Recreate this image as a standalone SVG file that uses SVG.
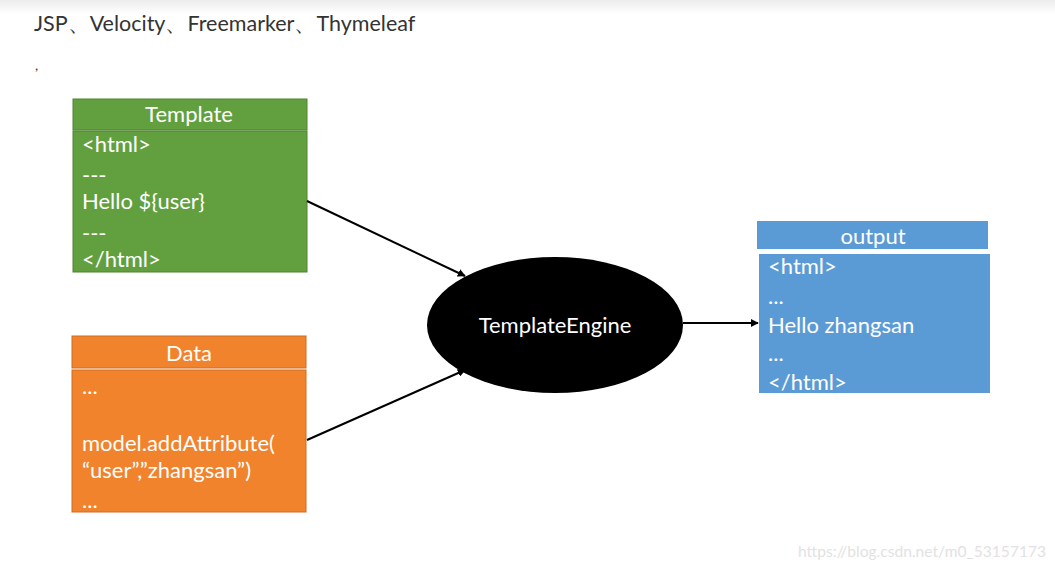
<svg xmlns="http://www.w3.org/2000/svg" width="1055" height="570" viewBox="0 0 1055 570">
<defs>
<marker id="ah" viewBox="0 0 10 10" refX="9" refY="5" markerWidth="8" markerHeight="8" markerUnits="userSpaceOnUse" orient="auto">
<path d="M0,0 L10,5 L0,10 z" fill="#000"/>
</marker>
<linearGradient id="topg" x1="0" y1="0" x2="0" y2="1">
<stop offset="0" stop-color="#ececec"/>
<stop offset="1" stop-color="#ffffff"/>
</linearGradient>
</defs>
<style>
text{font-family:Lato,"Open Sans","Liberation Sans",sans-serif;}
.t{font-size:22px;fill:#fff;}
.c{text-anchor:middle;}
.conn{stroke:#000;stroke-width:2;fill:none;marker-end:url(#ah);}
</style>
<rect width="1055" height="570" fill="#fff"/>
<rect width="1055" height="14" fill="url(#topg)"/>
<text x="34" y="31" font-size="21.5" fill="#333">JSP、Velocity、Freemarker、Thymeleaf</text>
<text x="35" y="70" font-size="14" fill="#333">,</text>
<g id="template">
<rect x="73" y="99" width="234" height="31" fill="#62a03f" stroke="#4f8330" stroke-width="1"/>
<rect x="73" y="131" width="234" height="141" fill="#62a03f" stroke="#4f8330" stroke-width="1"/>
<text class="t c" x="189" y="122">Template</text>
<text class="t" x="82" y="152">&lt;html&gt;</text>
<text class="t" x="82" y="183">---</text>
<text class="t" x="82" y="209">Hello ${user}</text>
<text class="t" x="82" y="241">---</text>
<text class="t" x="82" y="267">&lt;/html&gt;</text>
</g>
<g id="data">
<rect x="72" y="336" width="234" height="32" fill="#f0832c" stroke="#d06d20" stroke-width="1"/>
<rect x="72" y="370" width="234" height="142" fill="#f0832c" stroke="#d06d20" stroke-width="1"/>
<text class="t c" x="189" y="361">Data</text>
<text class="t" x="82" y="394">...</text>
<text class="t" x="82" y="451">model.addAttribute(</text>
<text class="t" x="82" y="478">“user”,”zhangsan”)</text>
<text class="t" x="82" y="508">...</text>
</g>
<g id="engine">
<ellipse cx="555" cy="325" rx="128" ry="68" fill="#000"/>
<text class="t c" x="555" y="333">TemplateEngine</text>
</g>
<g id="output">
<rect x="757" y="221" width="231" height="28" fill="#5b9bd5"/>
<rect x="759" y="254" width="231" height="139" fill="#5b9bd5"/>
<text class="t c" x="873" y="244">output</text>
<text class="t" x="768" y="274">&lt;html&gt;</text>
<text class="t" x="768" y="304">...</text>
<text class="t" x="768" y="333">Hello zhangsan</text>
<text class="t" x="768" y="361">...</text>
<text class="t" x="768" y="390">&lt;/html&gt;</text>
</g>
<g id="connectors">
<line class="conn" x1="307" y1="201" x2="465" y2="276"/>
<line class="conn" x1="307" y1="440" x2="465" y2="370"/>
<line class="conn" x1="683" y1="323" x2="758" y2="323"/>
</g>
<text x="798" y="557" font-family="Liberation Sans, Arial, sans-serif" font-size="15.6" fill="#e2e2e2">https://blog.csdn.net/m0_53157173</text>
</svg>
